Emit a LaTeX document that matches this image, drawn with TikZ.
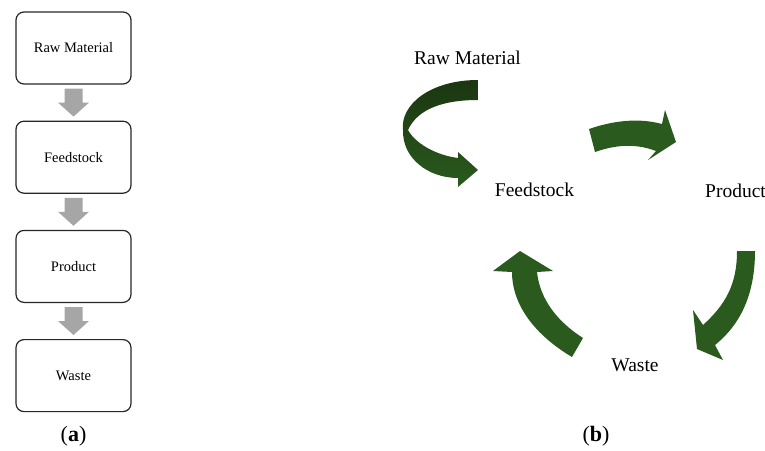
\documentclass[tikz,border=0pt]{standalone}
\usepackage{fontspec}
\setmainfont{Liberation Serif}
\usetikzlibrary{positioning,calc}
\definecolor{leafgreen}{RGB}{42,90,30}
\definecolor{leafdark}{RGB}{27,54,17}
\definecolor{stepgray}{RGB}{166,166,166}
\tikzset{
	stagebox/.style={draw=black!85,line width=1.2pt,rounded corners=8pt,minimum width=115pt,minimum height=72pt,inner sep=0pt,font=\fontsize{14.5}{17}\selectfont},
	flowarrow/.style={fill=stepgray},
	cyclelabel/.style={inner sep=0pt,font=\fontsize{19.5}{23}\selectfont},
	panellabel/.style={inner sep=0pt,font=\fontsize{22}{26}\selectfont}
}
\begin{document}
\begin{tikzpicture}[x=1pt,y=-1pt]
				\useasboundingbox (0,0) rectangle (765,450);
				\node[stagebox] (raw) at (73.5,48) {Raw Material};
				\node[stagebox,below=36pt of raw] (feed) {Feedstock};
				\node[stagebox,below=36pt of feed] (prod) {Product};
				\node[stagebox,below=36pt of prod] (waste) {Waste};
				\foreach \a/\b in {raw/feed,feed/prod,prod/waste}
					\path[flowarrow] ($(\a.south)+(-9,4)$) -- ($(\a.south)+(9,4)$) -- ($(\a.south)+(9,18)$) -- ($(\a.south)+(15.5,18)$)
						-- ($(\b.north)+(0,-4)$) -- ($(\a.south)+(-15.5,18)$) -- ($(\a.south)+(-9,18)$) -- cycle;
				\node[panellabel] (pa) at (73.5,436) {(\textbf{a})};
				\node[cyclelabel] (rawR) at (467.5,58) {Raw Material};
				\node[cyclelabel] (feedR) at (534.5,190) {Feedstock};
				\node[cyclelabel] (prodR) at (735.5,191) {Product};
				\node[cyclelabel] (wasteR) at (635,365) {Waste};
				\path[top color=leafdark,bottom color=leafgreen] (478,80) .. controls (430,80) and (400,105) .. (403,130)
					.. controls (402,158) and (428,178) .. (458,178) -- (458,187) -- (478,170) -- (458,152) -- (458,158)
					.. controls (435,155) and (415,143) .. (408,130) .. controls (418,108) and (445,100) .. (478,100) -- cycle;
				\fill[leafgreen] (589,129) .. controls (615,120) and (640,118) .. (662,124) -- (665,110) -- (676,142)
					-- (648,160) -- (656,151) .. controls (635,143) and (615,145) .. (595,152) -- cycle;
				\fill[leafgreen] (737,251) -- (755,251) .. controls (755,295) and (740,325) .. (715,345) -- (723,360)
					-- (697,349) -- (693,310) -- (703,325) .. controls (725,305) and (737,285) .. (737,251) -- cycle;
				\fill[leafgreen] (583,338) -- (572,357) .. controls (535,335) and (512,305) .. (512,272) -- (493,271)
					-- (520,251) -- (553,271) -- (537,272) .. controls (540,300) and (558,322) .. (583,338) -- cycle;
				\node[panellabel] (pb) at (596,436) {(\textbf{b})};
			\end{tikzpicture}
\end{document}
